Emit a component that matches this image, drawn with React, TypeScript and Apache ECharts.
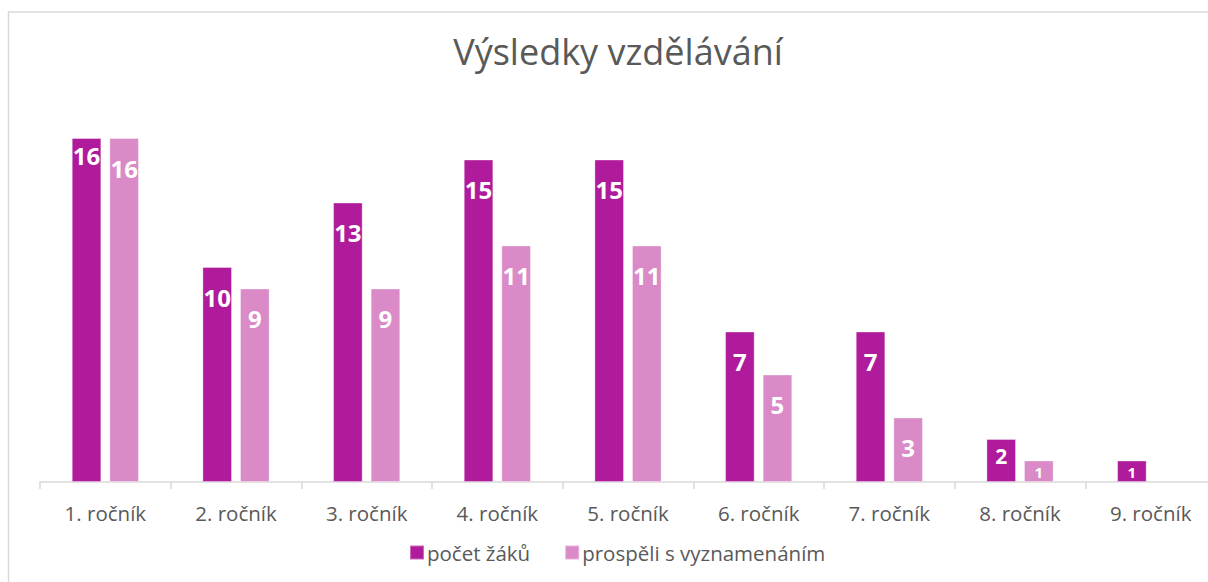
import React, { useEffect, useRef } from "react";
import * as echarts from "echarts";

const categories = ["1. ročník", "2. ročník", "3. ročník", "4. ročník", "5. ročník", "6. ročník", "7. ročník", "8. ročník", "9. ročník"];
const pocetZaku = [16, 10, 13, 15, 15, 7, 7, 2, 1];
const vyznamenani = [16, 9, 9, 11, 11, 5, 3, 1, null];
const seriesNames = ["počet žáků", "prospěli s vyznamenáním"];
const titleText = "Výsledky vzdělávání";

const DARK = "#B01B9B";
const LIGHT = "#D98AC7";
const FONT = "'Open Sans', 'Noto Sans', sans-serif";

function makeData(values: (number | null)[], firstHigh: boolean) {
  return values.map((v, i) => {
    if (v === null) return null;
    if (v === 1) return { value: v, label: { fontSize: 15, distance: 4 } };
    if (v === 2) return { value: v, label: { fontSize: 21, distance: 6 } };
    if (firstHigh && i === 0) return { value: v, label: { distance: 5 } };
    return v;
  });
}

export default function App() {
  const ref = useRef<HTMLDivElement>(null);
  useEffect(() => {
    if (!ref.current) return;
    const chart = echarts.init(ref.current, undefined, { renderer: "svg" });
    const label = {
      show: true,
      position: "insideTop",
      distance: 18,
      color: "#ffffff",
      fontWeight: "bold",
      fontSize: 24,
      fontFamily: FONT,
    };
    chart.setOption({
      animation: false,
      title: {
        text: titleText,
        left: 613,
        textAlign: "center",
        top: 28,
        textStyle: { fontFamily: FONT, fontSize: 36, fontWeight: "normal", color: "#595959" },
      },
      graphic: [
        {
          type: "rect",
          shape: { x: 8.5, y: 12, width: 1240, height: 600 },
          style: { fill: "none", stroke: "#d9d9d9", lineWidth: 1.5 },
          silent: true,
        },
      ],
      legend: {
        left: 404,
        top: 537,
        itemWidth: 14,
        itemHeight: 14,
        itemGap: 34,
        icon: "rect",
        textStyle: { fontFamily: FONT, fontSize: 20.5, color: "#595959", padding: [0, 0, 0, -2] },
        data: seriesNames,
      },
      grid: { left: 40, right: 8, top: 95, bottom: 100 },
      xAxis: {
        type: "category",
        data: categories,
        boundaryGap: true,
        axisLine: { lineStyle: { color: "#d9d9d9", width: 1.5 } },
        axisTick: { show: true, length: 7, lineStyle: { color: "#d9d9d9", width: 1.5 } },
        axisLabel: { fontFamily: FONT, fontSize: 20.5, color: "#595959", margin: 20 },
      },
      yAxis: {
        type: "value",
        min: 0,
        max: 18,
        show: false,
        splitLine: { show: false },
      },
      series: [
        {
          name: seriesNames[0],
          type: "bar",
          barWidth: 29.6,
          barGap: "27%",
          data: makeData(pocetZaku, true),
          itemStyle: { color: DARK, borderColor: "rgba(255,255,255,0.35)", borderWidth: 1 },
          label,
        },
        {
          name: seriesNames[1],
          type: "bar",
          barWidth: 29.6,
          data: makeData(vyznamenani, false),
          itemStyle: { color: LIGHT, borderColor: "rgba(255,255,255,0.35)", borderWidth: 1 },
          label,
        },
      ],
    });
    return () => chart.dispose();
  }, []);
  return (
    <div style={{ position: "absolute", left: 0, top: 0, width: 1208, height: 582, overflow: "hidden", background: "#fff" }}>
      <div ref={ref} style={{ width: 1224, height: 582 }} />
    </div>
  );
}
